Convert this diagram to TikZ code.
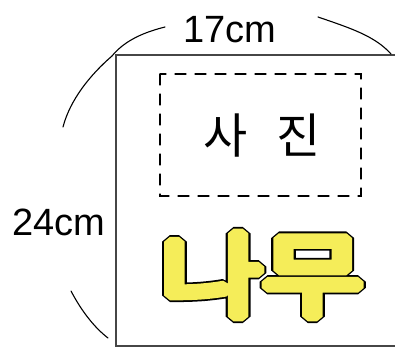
\documentclass[tikz,border=0pt]{standalone}
\usepackage{fontspec}
\setmainfont{Liberation Sans}
\newfontfamily\kr{Noto Sans CJK KR}
\definecolor{frame}{RGB}{70,70,70}
\definecolor{namuyellow}{RGB}{245,238,90}
\tikzset{
  sketch/.style={black,line width=1.1pt,line cap=round},
  hand/.style={font=\fontsize{38}{38}\selectfont,inner sep=0pt},
}
\begin{document}
\begin{tikzpicture}[x=1pt,y=-1pt]
\useasboundingbox (0,0) rectangle (395,347);
% sheet
\draw[frame,line width=1.6pt] (396,55) -- (116,55) -- (116,346) -- (396,346);
% dimension curves
\coordinate (c0) at (112,56);
\coordinate (t1) at (165,27);
\coordinate (t2) at (318,17);
\coordinate (t3) at (391,54);
\coordinate (l1) at (63,127);
\coordinate (l2) at (71,291);
\coordinate (l3) at (108,338);
\draw[sketch] (c0) .. controls (125,40) and (145,32) .. (t1);
\draw[sketch] (t2) .. controls (350,28) and (375,36) .. (t3);
\draw[sketch] (c0) .. controls (90,75) and (70,100) .. (l1);
\draw[sketch] (l2) .. controls (82,312) and (95,328) .. (l3);
\node[hand] (w) at (230,30) {17cm};
\node[hand] (h) at (59,222) {24cm};
% photo area
\draw[black,line width=1.1pt,dash pattern=on 11pt off 9pt,line cap=round] (160,74) rectangle (361,196);
\node[font=\kr\fontsize{48}{48}\selectfont,inner sep=0pt] (photo) at (262,136) {사\hspace{0.6em}진};
% tree text
\node[font=\kr\fontsize{92}{92}\selectfont,text=namuyellow,xscale=1.2,inner sep=0pt] (namu) at (262,275)
  {\special{pdf:code 2 Tr 13 w 2 j 0 0 0 RG 0 0 0 rg}\rlap{나무}\special{pdf:code 2 Tr 9.5 w 2 j 0.96 0.93 0.35 RG 0.96 0.93 0.35 rg}나무\special{pdf:code 0 Tr}};
\end{tikzpicture}
\end{document}
